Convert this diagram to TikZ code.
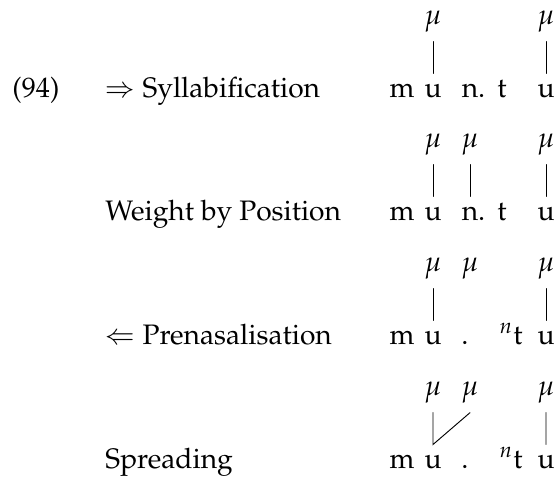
\documentclass[tikz,border=0pt]{standalone}
\usepackage[T1]{fontenc}
\usepackage{mathpazo}
\begin{document}
\begin{tikzpicture}[x=0.355pt,y=-0.355pt,line cap=round,line width=0.33pt,
		seg/.style={anchor=base},mora/.style={anchor=base},lab/.style={anchor=base west,inner sep=0pt}]
	\useasboundingbox (0,0) rectangle (559,479);
	% syllabification
	\node[lab] (ex) at (12,97) {(94)};
	\node[lab] (lab1) at (105,97) {$\Rightarrow$ Syllabification};
	\node[seg] (m1) at (402,97) {m};
	\node[seg] (u1) at (433,97) {u};
	\node[seg] (n1) at (470,97) {n\rlap{.}};
	\node[seg] (t1) at (502,97) {t};
	\node[seg] (v1) at (546,97) {u};
	\node[mora] (mu1a) at (433,24) {$\mu$};
	\node[mora] (mu1c) at (546,24) {$\mu$};
	\draw (mu1a.south) -- (u1.north) (mu1c.south) -- (v1.north);
	% weight by position
	\node[lab] (lab2) at (105,220) {Weight by Position};
	\node[seg] (m2) at (402,220) {m};
	\node[seg] (u2) at (433,220) {u};
	\node[seg] (n2) at (470,220) {n\rlap{.}};
	\node[seg] (t2) at (502,220) {t};
	\node[seg] (v2) at (546,220) {u};
	\node[mora] (mu2a) at (433,147) {$\mu$};
	\node[mora] (mu2b) at (470,147) {$\mu$};
	\node[mora] (mu2c) at (546,147) {$\mu$};
	\draw (mu2a.south) -- (u2.north) (mu2b.south) -- (n2.north) (mu2c.south) -- (v2.north);
	% prenasalisation
	\node[lab] (lab3) at (105,344) {$\Leftarrow$ Prenasalisation};
	\node[seg] (m3) at (402,344) {m};
	\node[seg] (u3) at (433,344) {u};
	\node[seg] (d3) at (465,344) {.};
	\node[seg] (t3) at (518,344) {\llap{$^n$}t};
	\node[seg] (v3) at (546,344) {u};
	\node[mora] (mu3a) at (433,271) {$\mu$};
	\node[mora] (mu3b) at (470,271) {$\mu$};
	\node[mora] (mu3c) at (546,271) {$\mu$};
	\draw (mu3a.south) -- (u3.north) (mu3c.south) -- (v3.north);
	% spreading
	\node[lab] (lab4) at (105,468) {Spreading};
	\node[seg] (m4) at (402,468) {m};
	\node[seg] (u4) at (433,468) {u};
	\node[seg] (d4) at (465,468) {.};
	\node[seg] (t4) at (518,468) {\llap{$^n$}t};
	\node[seg] (v4) at (546,468) {u};
	\node[mora] (mu4a) at (433,395) {$\mu$};
	\node[mora] (mu4b) at (470,395) {$\mu$};
	\node[mora] (mu4c) at (546,395) {$\mu$};
	\draw (mu4a.south) -- (u4.north) -- (mu4b.south) (mu4c.south) -- (v4.north);
\end{tikzpicture}
\end{document}
